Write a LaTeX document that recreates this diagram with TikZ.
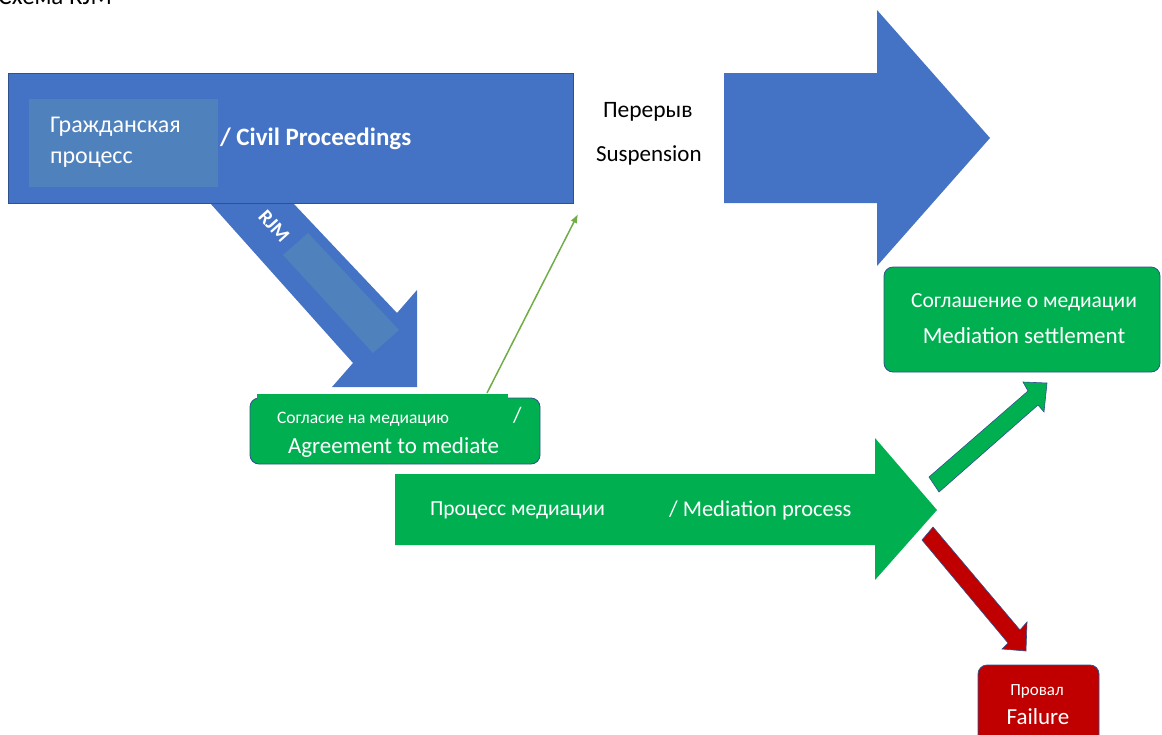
\documentclass[tikz,border=0pt]{standalone}
\usepackage{fontspec}
\setmainfont{Carlito}
\usetikzlibrary{arrows.meta}
\definecolor{rjmblue}{HTML}{4472C4}
\definecolor{rjmedge}{HTML}{2F528F}
\definecolor{rjminner}{HTML}{4F81BD}
\definecolor{rjmgreen}{HTML}{00B050}
\definecolor{rjmred}{HTML}{C00000}
\definecolor{rjmline}{HTML}{70AD47}
\newcommand{\fs}[1]{\fontsize{#1}{#1}\selectfont}
\begin{document}
\begin{tikzpicture}[x=1pt,y=-1pt,
  every node/.style={inner sep=0pt, outer sep=0pt, text=white, anchor=west},
  blockarrow/.style={draw=rjmedge, line width=0.6pt},
  roundbox/.style={draw=rjmedge, line width=0.8pt, rounded corners=9pt}]
\useasboundingbox (0,0) rectangle (1162,734);
\clip (0,0) rectangle (1162,734);
% title, cut at the top edge
\node[text=black, anchor=base east] (title) at (112,4) {\fs{25}Схема RJM};
% RJM arrow down to the agreement
\fill[rjmblue] (210,203) -- (353,363) -- (332,387) -- (417,387) -- (417,290) -- (397,313) -- (293,203) -- cycle;
\fill[rjminner] (283,255) -- (308,233) -- (399,330) -- (373,353) -- cycle;
\node[rotate=-48, anchor=center] (rjm) at (274,226) {\fs{20}\bfseries RJM};
% civil proceedings
\filldraw[fill=rjmblue, draw=rjmedge, line width=0.6pt] (8,73) rectangle (573,203);
\fill[rjminner] (29,99) rectangle (218,187);
\node (civru1) at (50,127) {\fs{24}Гражданская};
\node (civru2) at (50,160) {\fs{24}процесс};
\node (civen) at (220,139) {\fs{25}\bfseries / Civil Proceedings};
% suspension
\node[text=black] (susru) at (603,112) {\fs{23.5}Перерыв};
\node[text=black] (susen) at (596,155) {\fs{23}Suspension};
\fill[rjmblue] (724,73) -- (877,73) -- (877,10) -- (990,138) -- (877,266) -- (877,203) -- (724,203) -- cycle;
% agreement to mediate
\filldraw[roundbox, fill=rjmgreen] (250,398) rectangle (540,464);
\fill[rjmgreen] (257,394) rectangle (508,404);
\node (agrru) at (277,419) {\fs{17.5}Согласие на медиацию};
\node (agrsl) at (513,415) {\fs{22}/};
\node (agren) at (288,447) {\fs{23}Agreement to mediate};
\coordinate (lnA) at (487,393);
\coordinate (lnB) at (578,214);
\draw[rjmline, line width=1.5pt, -{Latex[length=9pt,width=7pt]}] (lnA) -- (lnB);
% mediation process
\fill[rjmgreen] (395,474) -- (875,474) -- (875,438) -- (937,510) -- (875,580) -- (875,545) -- (395,545) -- cycle;
\node (procru) at (430,510) {\fs{21.5}Процесс медиации};
\node (procen) at (669,510) {\fs{22.5}/ Mediation process};
% outcomes
\filldraw[blockarrow, fill=rjmgreen] (929,477) -- (1028,391) -- (1023,382) -- (1047,383) -- (1044,412) -- (1038,405) -- (939,492) -- cycle;
\filldraw[blockarrow, fill=rjmred] (933,527) -- (1020,630) -- (1027,622) -- (1026,651) -- (1002,649) -- (1008,643) -- (922,540) -- cycle;
\filldraw[roundbox, fill=rjmgreen] (884,267) rectangle (1160,372);
\node[anchor=center] (setru) at (1024,302) {\fs{21.5}Соглашение о медиации};
\node[anchor=center] (seten) at (1024,336) {\fs{23}Mediation settlement};
\filldraw[roundbox, fill=rjmred] (978,665) rectangle (1099,750);
\node[anchor=center] (failru) at (1037,691) {\fs{17}Провал};
\node[anchor=center] (failen) at (1038,717) {\fs{23}Failure};
\end{tikzpicture}
\end{document}
